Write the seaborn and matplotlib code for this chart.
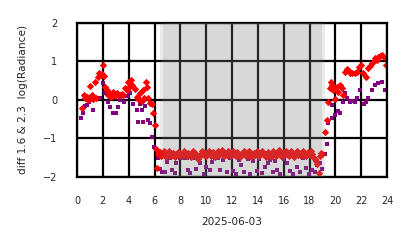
import matplotlib
matplotlib.use("Agg")
import matplotlib.pyplot as plt
import seaborn as sns
import numpy as np
import pandas as pd

sns.set_style("white")
plt.rcParams['font.family'] = ['DejaVu Sans']

# ---------------- data ----------------
red_day_h = [0.36, 0.54, 0.62, 0.75, 0.88, 1.0, 1.14, 1.25, 1.39, 1.5, 1.65, 1.73, 1.84, 1.91, 2.04,
             2.1, 2.17, 2.3, 2.4, 2.5, 2.62, 2.72, 2.81, 2.95, 3.07, 3.18, 3.3, 3.45, 3.59, 3.72,
             3.85, 3.97, 4.08, 4.15, 4.23, 4.36, 4.48, 4.62, 4.75, 4.88, 5.0, 5.08, 5.2, 5.34,
             5.4, 5.52, 5.65, 5.78, 5.9, 6.04, 6.1, 6.22]
red_day_v = [-0.20, 0.12, 0.05, 0.08, -0.01, 0.36, 0.12, 0.02, 0.47, 0.05, 0.59, 0.69, 0.66, 0.67, 0.91,
             0.62, 0.34, 0.26, 0.12, 0.17, 0.08, 0.15, 0.21, 0.10, 0.17, 0.13, 0.12, 0.16, 0.12, 0.30,
             0.25, 0.47, 0.35, 0.52, 0.40, 0.34, 0.28, 0.08, 0.02, 0.17, -0.02, 0.26, 0.04, 0.47,
             0.33, 0.06, -0.09, -0.12, -0.35, -0.66, -1.28, -1.78]

red_night_start = 6.3
red_night_step = 0.1
red_night_v = [
    -1.42, -1.36, -1.47, -1.40, -1.34, -1.43, -1.49, -1.38, -1.33, -1.41,
    -1.46, -1.37, -1.42, -1.48, -1.40, -1.35, -1.44, -1.38, -1.47, -1.41,
    -1.34, -1.40, -1.46, -1.37, -1.42, -1.49, -1.41, -1.33, -1.38, -1.44,
    -1.50, -1.54, -1.46, -1.40, -1.34, -1.43, -1.37, -1.46, -1.40, -1.33,
    -1.38, -1.45, -1.36, -1.41, -1.48, -1.40, -1.34, -1.43, -1.37, -1.31,
    -1.40, -1.46, -1.37, -1.43, -1.34, -1.41, -1.47, -1.38, -1.33, -1.40,
    -1.45, -1.36, -1.41, -1.48, -1.43, -1.37, -1.32, -1.40, -1.46, -1.38,
    -1.34, -1.41, -1.49, -1.44, -1.37, -1.43, -1.34, -1.40, -1.47, -1.38,
    -1.32, -1.37, -1.44, -1.50, -1.41, -1.36, -1.43, -1.48, -1.40, -1.33,
    -1.38, -1.46, -1.37, -1.31, -1.40, -1.47, -1.41, -1.36, -1.43, -1.34,
    -1.40, -1.46, -1.38, -1.33, -1.41, -1.48, -1.40, -1.34, -1.43, -1.37,
    -1.45, -1.38, -1.32, -1.40, -1.47, -1.41, -1.36, -1.44, -1.33, -1.40,
    -1.48, -1.55, -1.60, -1.66, -1.90, -1.45, -1.38, -1.42]

red_eve_h = [19.2, 19.38, 19.46, 19.55, 19.64, 19.72, 19.8, 19.95, 20.1, 20.22, 20.36, 20.5,
             20.62, 20.75, 20.88, 21.0, 21.15, 21.3, 21.5, 21.7, 21.85, 22.0, 22.17, 22.35,
             22.55, 22.68, 22.8, 22.95, 23.07, 23.2, 23.33, 23.45, 23.6, 23.75, 23.9]
red_eve_v = [-0.84, -0.53, -0.05, 0.30, 0.47, 0.40, 0.26, 0.02, 0.34, 0.20, 0.38, 0.30,
             0.12, 0.73, 0.80, 0.78, 0.70, 0.69, 0.69, 0.72, 0.86, 0.92, 0.69, 0.60,
             0.82, 0.88, 0.95, 1.00, 1.08, 1.05, 1.12, 1.15, 1.17, 1.12, 0.92]

purple_h = [0.28, 0.44, 0.6, 0.75, 0.9, 1.0, 1.27, 1.52, 1.8, 1.99, 2.17, 2.4, 2.55, 2.8, 3.0,
            3.2, 3.33, 3.6, 3.85, 4.1, 4.3, 4.62, 4.75, 4.88, 5.0, 5.13, 5.3, 5.52, 5.65, 5.78,
            5.98, 6.25, 6.4, 6.55, 6.8, 7.0, 7.2, 7.33, 7.6, 7.7, 7.97, 8.23, 8.5, 8.62, 8.75,
            9.0, 9.2, 9.4, 9.52, 9.8, 10.0, 10.3, 10.43, 10.7, 10.95, 11.1, 11.33, 11.6, 11.87,
            12.1, 12.3, 12.5, 12.73, 12.95, 13.2, 13.4, 13.65, 13.9, 14.1, 14.3, 14.55, 14.8,
            14.95, 15.15, 15.33, 15.5, 15.75, 16.0, 16.23, 16.45, 16.7, 17.0, 17.25, 17.52,
            17.7, 17.95, 18.17, 18.4, 18.6, 18.8, 18.95, 19.2, 19.35, 19.46, 19.7, 19.7,
            19.97, 20.2, 20.36, 20.55, 20.75, 20.9, 21.1, 21.3, 21.5, 21.7, 21.9, 22.2, 22.4,
            22.55, 22.8, 23.07, 23.3, 23.6, 23.8]
purple_v = [-0.48, -0.35, -0.15, -0.14, -0.05, 0.0, -0.26, 0.04, 0.04, 0.43, 0.17, -0.05, -0.18,
            -0.35, -0.35, -0.18, 0.0, -0.05, 0.1, 0.17, -0.10, -0.26, -0.57, -0.10, -0.26,
            -0.57, -0.15, -0.52, -0.60, -0.96, -1.22, -1.52, -1.80, -1.87, -1.87, -1.62, -1.52,
            -1.83, -1.90, -1.65, -1.52, -1.52, -1.52, -1.83, -1.90, -1.52, -1.80, -1.52, -1.65,
            -1.92, -1.75, -1.83, -1.62, -1.52, -1.52, -1.83, -1.57, -1.88, -1.52, -1.85, -1.92,
            -1.57, -1.70, -1.88, -1.55, -1.93, -1.60, -1.85, -1.55, -1.90, -1.75, -1.65, -1.57,
            -1.88, -1.60, -1.82, -1.93, -1.55, -1.65, -1.85, -1.92, -1.75, -1.88, -1.52, -1.78,
            -1.92, -1.83, -1.88, -1.70, -1.65, -1.80, -1.40, -1.15, -0.61, -0.48, -0.14, -0.40,
            -0.30, -0.35, -0.05, 0.17, 0.04, -0.05, -0.02, -0.05, 0.05, 0.26, -0.10, -0.05,
            0.05, 0.26, 0.38, 0.43, 0.47, 0.26]

red_night_h = [red_night_start + i * red_night_step for i in range(len(red_night_v))]
red_df = pd.DataFrame({"hour": red_day_h + red_night_h + red_eve_h,
                       "diff": red_day_v + red_night_v + red_eve_v})
purple_df = pd.DataFrame({"hour": purple_h, "diff": purple_v})

xticks = list(range(0, 25, 2))
yticks = [-2, -1, 0, 1, 2]

# ---------------- figure ----------------
fig = plt.figure(figsize=(4.14, 2.48), dpi=100)
ax = fig.add_axes([0.186, 0.2875, 0.749, 0.6195])

sns.scatterplot(data=purple_df, x="hour", y="diff", ax=ax, marker="s", s=8,
                color="purple", linewidth=0, zorder=2)
sns.scatterplot(data=red_df, x="hour", y="diff", ax=ax, marker="D", s=14,
                color="red", linewidth=0, zorder=2.5)

ax.axvspan(6.43, 19.2, color="gray", alpha=0.16, lw=0, zorder=3)
ax.axvspan(6.63, 18.99, color="gray", alpha=0.16, lw=0, zorder=3)

ax.set_xlim(0, 24)
ax.set_ylim(-2, 2)
ax.set_xticks(xticks)
ax.set_yticks(yticks)
ax.set_axisbelow(True)
ax.grid(True, color="black", linewidth=1.6)
for s in ax.spines.values():
    s.set_color("black")
    s.set_linewidth(1.6)
ax.tick_params(axis="both", direction="out", length=7, width=1.6, color="black",
               labelsize=7, pad=7)
ax.set_xlabel("2025-06-03", fontsize=7.6, labelpad=8)
ax.set_ylabel("diff 1.6 & 2.3  log(Radiance)", fontsize=7.6, labelpad=11)

fig.savefig("out.png", dpi=100)
